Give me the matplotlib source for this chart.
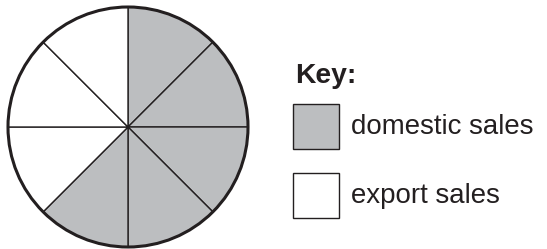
import matplotlib
matplotlib.use("Agg")
import matplotlib.pyplot as plt
from matplotlib.patches import Circle, Rectangle

# Data: pie divided into eighths, starting at 12 o'clock, clockwise
slice_values = [1, 1, 1, 1, 1, 1, 1, 1]
slice_category = ["domestic", "domestic", "domestic", "domestic", "domestic",
                  "export", "export", "export"]
key_title = "Key:"
key_labels = ["domestic sales", "export sales"]
category_colors = {"domestic": "#bcbec0", "export": "#ffffff"}

plt.rcParams['font.family'] = ['Liberation Sans', 'DejaVu Sans']

W, H = 547, 249
fig = plt.figure(figsize=(W / 100, H / 100), dpi=100)
ax = fig.add_axes([0, 0, 1, 1])

cx, cy, r = 128, H - 127, 120
colors = [category_colors[c] for c in slice_category]
ax.pie(slice_values, colors=colors, startangle=90, counterclock=False,
       center=(cx, cy), radius=r, frame=True,
       wedgeprops=dict(edgecolor="#231f20", linewidth=1.0))
ax.add_patch(Circle((cx, cy), r, fill=False, edgecolor="#231f20", linewidth=2.2, zorder=5))

ax.set_xlim(0, W)
ax.set_ylim(0, H)
ax.set_aspect("equal")
ax.axis("off")

# Key
ax.text(295, H - 76, key_title, fontsize=20.3, fontweight="bold", color="#231f20",
        ha="left", va="center")
box_keys = ["domestic", "export"]
box_tops = [104, 173]
for k, top, lab in zip(box_keys, box_tops, key_labels):
    ax.add_patch(Rectangle((293, H - top - 45), 46, 45, facecolor=category_colors[k],
                           edgecolor="#231f20", linewidth=1.0))
    ax.text(351, H - top - 23, lab, fontsize=19.9, color="#231f20", ha="left", va="center")

fig.savefig("out.png", dpi=100)
